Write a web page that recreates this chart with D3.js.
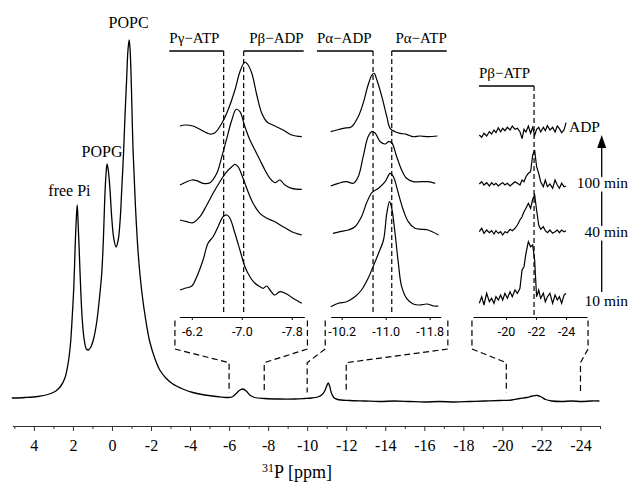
<!DOCTYPE html>
<html lang="en">
<head>
<meta charset="utf-8">
<title>31P NMR spectrum</title>
<script src="https://cdnjs.cloudflare.com/ajax/libs/d3/7.8.5/d3.min.js"></script>
<style>
  body { margin: 0; background: #fff; }
  svg { display: block; }
  .serif, .main-axis text { font-family: "Liberation Serif", "Times New Roman", serif; }
  .main-axis text { font-size: 16px; fill: #000; }
  .inset-axis text { font-family: Roboto, "Open Sans", sans-serif; font-size: 12.5px; fill: #000; }
</style>
</head>
<body>
<script>
// ---- main spectrum (ppm, intensity) ----
const mainPpm = [5.13,4.46,3.80,3.28,2.87,2.62,2.41,2.26,2.13,2.03,
  1.95,1.89,1.83,1.78,1.74,1.68,1.60,1.52,1.42,1.31,
  1.21,1.08,0.93,0.78,0.65,0.53,0.44,0.37,0.30,0.25,
  0.19,0.11,0.01,-0.09,-0.21,-0.32,-0.42,-0.50,-0.60,-0.67,
  -0.75,-0.82,-0.88,-0.93,-1.00,-1.08,-1.20,-1.35,-1.53,-1.73,
  -1.94,-2.19,-2.45,-2.76,-3.12,-3.63,-4.14,-4.75,-5.37,-5.88,
  -6.14,-6.34,-6.52,-6.70,-6.88,-7.06,-7.31,-7.82,-8.59,-9.36,
  -9.87,-10.23,-10.54,-10.74,-10.90,-11.00,-11.08,-11.15,-11.24,-11.36,
  -11.56,-12.18,-12.94,-13.71,-14.48,-15.25,-16.01,-16.78,-17.55,-18.32,
  -19.09,-19.85,-20.47,-20.88,-21.24,-21.54,-21.80,-22.00,-22.21,-22.52,
  -23.03,-23.54,-24.05,-24.56,-24.97];
const mainInt = [3,3.5,4.5,6.5,10,15,23,36,56,86,
  116,152,181,196,181,152,111,81,61,52,
  51,54,63,79,101,126,161,202,228,237,
  231,214,183,163,154,161,181,211,251,286,
  321,351,361,351,311,251,196,146,109,81,
  59,43,31,23,17,12,8.5,6,4.5,3.5,
  4,7,10.5,12,10,6,3.5,2.5,2,2,
  2.5,3,4,6,10,15,18,15,8,3.5,
  1.5,0.5,0,-0.5,0,-0.5,-1,-0.5,-1,-0.5,
  0,0.5,1,2.5,3.5,5,5.5,4,1.5,0,
  -0.5,0,-0.5,0,0];
const mainTicks = [4,2,0,-2,-4,-6,-8,-10,-12,-14,-16,-18,-20,-22,-24];
const minorTicks = [5,3,1,-1,-3,-5,-7,-9,-11,-13,-15,-17,-19,-21,-23,-25];
const peakNames = ["free Pi", "POPG", "POPC"];

// ---- inset 1: -6 .. -8 ppm (rows top to bottom: ADP, 100, 40, 10 min) ----
const p1t1Ppm = [-6.01,-6.09,-6.22,-6.33,-6.49,-6.57,-6.68,-6.78,-6.89,-6.97,-7.05,-7.09,-7.16,-7.24,-7.32,-7.40,-7.53,-7.66,-7.80,-7.96];
const p1t1Int = [191,192,191,187.7,183,184.3,193.7,207,227,245.3,255,253,243.7,222,203.7,195.3,191,187,182,180.3];
const p1t2Ppm = [-6.01,-6.12,-6.20,-6.28,-6.38,-6.49,-6.60,-6.68,-6.76,-6.84,-6.91,-6.97,-7.05,-7.13,-7.21,-7.29,-7.37,-7.45,-7.53,-7.61,-7.69,-7.80,-7.96];
const p1t2Int = [132,135.3,137,136.3,133.7,134.3,143.7,160.3,178.7,197,207.7,205.3,190.3,177,167,157,147,138.7,134.3,137,132,128.7,127.7];
const p1t3Ppm = [-6.01,-6.12,-6.22,-6.33,-6.44,-6.54,-6.65,-6.76,-6.84,-6.89,-6.94,-7.02,-7.10,-7.18,-7.29,-7.40,-7.53,-7.66,-7.80,-7.96];
const p1t3Int = [97,95.3,94.3,100.3,112,123.7,135.3,145.3,150.3,152.7,150.3,138.7,125.3,113.7,103.7,98.7,95.3,90.3,85.3,82];
const p1t4Ppm = [-6.01,-6.09,-6.20,-6.28,-6.38,-6.46,-6.54,-6.62,-6.70,-6.76,-6.81,-6.89,-6.97,-7.05,-7.13,-7.21,-7.29,-7.34,-7.40,-7.45,-7.53,-7.61,-7.72,-7.82,-7.96];
const p1t4Int = [27,28.7,31,40.3,57,73.7,80.3,90.3,100.3,102,98.7,83.7,67,50.3,40.3,33.7,30.3,28.7,31,27,22,25.3,23,18.7,13.7];

// ---- inset 2: -10 .. -12 ppm ----
const p2t1Ppm = [-10.00,-10.11,-10.23,-10.38,-10.50,-10.59,-10.68,-10.75,-10.79,-10.84,-10.93,-11.02,-11.08,-11.17,-11.26,-11.38,-11.50,-11.62,-11.77,-11.94];
const p2t1Int = [185.3,187,188.7,190.3,200.3,213.7,232,242,243.7,237,220.3,200.3,188.7,185.3,183.7,182.7,180.3,181,180.3,181];
const p2t2Ppm = [-10.00,-10.14,-10.29,-10.41,-10.50,-10.59,-10.68,-10.75,-10.81,-10.90,-10.99,-11.05,-11.11,-11.20,-11.29,-11.38,-11.50,-11.65,-11.77,-11.90];
const p2t2Int = [131,133.7,135.3,133.7,140.3,160.3,180.3,185.3,183.7,175.3,173,175.3,174.3,160.3,147,138.7,135.3,135.3,135.3,133.7];
const p2t3Ppm = [-10.04,-10.17,-10.32,-10.44,-10.56,-10.65,-10.75,-10.87,-10.99,-11.08,-11.14,-11.23,-11.32,-11.41,-11.53,-11.65,-11.77,-11.96];
const p2t3Int = [83.7,85.3,87,90.3,100.3,113.7,124.3,128.7,135.3,143.7,140.3,123.7,107,95.3,88.7,87.7,87,82];
const p2t4Ppm = [-10.00,-10.14,-10.29,-10.44,-10.56,-10.68,-10.77,-10.87,-10.96,-11.02,-11.07,-11.11,-11.17,-11.23,-11.29,-11.38,-11.50,-11.62,-11.75,-11.87,-11.96];
const p2t4Int = [10.3,13.7,15.3,20.3,27,38.7,50.3,63.7,77,103.7,115.3,108.7,83.7,53.7,30.3,18.7,13,12,13,11,11];

// ---- inset 3: Pbeta-ATP region, noisy, one shared ppm grid ----
const p3Ppm = [-18.22,-18.38,-18.53,-18.71,-18.89,-19.04,-19.20,-19.33,-19.49,-19.64,-19.78,-19.93,-20.09,-20.27,-20.42,-20.60,-20.76,-20.93,-21.07,-21.20,-21.33,-21.49,-21.64,-21.78,-21.91,-22.04,-22.18,-22.31,-22.49,-22.62,-22.76,-22.93,-23.11,-23.27,-23.42,-23.56,-23.71,-23.87,-24.00];
const p3t1Int = [182,179.7,183.7,181,185.3,183,187,184.3,189.3,185.3,188.7,186.3,189.7,187,191,187.7,188.7,185.3,178.3,187.7,185,191,183.7,189.7,181.7,187.7,189.7,185,189.7,186.3,191.3,187,189.7,185,191,188.3,184.3,187,194.3];
const p3t2Int = [133,135.3,132,134.3,131,134.3,132,133.7,131,133,134.3,132,133.7,131,133,135.3,133.7,132,137,135.3,140.3,143.7,145.3,162,167,150.3,143.7,135.3,130.3,137,130.3,133,128.7,137,132,128.7,133.7,130.3,131];
const p3t3Int = [85.3,88.7,83.7,87,84.3,86.3,83,86.3,83.7,85.3,82,85.3,84.3,87.7,86.3,88.7,92,97,100.3,105.3,108.7,113.7,108.7,117.7,122,107,92,87.7,90.3,86.3,84.3,87,83.7,85.3,87,84.3,87,85.3,86.3];
const p3t4Int = [13.7,20.3,12,23.7,15.3,18.7,13.7,20.3,17,22,17,23.7,18.7,25.3,20.3,27,23.7,28.7,47,50.3,63.7,75.3,70.3,72,57,20.3,27,18.7,23.7,15.3,20.3,23.7,13.7,22,17,20.3,13.7,22,23.7];

const rowNames = ["ADP", "100 min", "40 min", "10 min"];
const markerNames = ["P\u03b3\u2212ATP", "P\u03b2\u2212ADP", "P\u03b1\u2212ADP", "P\u03b1\u2212ATP", "P\u03b2\u2212ATP"];
const markerPpm = [-6.71, -7.03, -10.77, -11.11, -21.87];

// ---- layout ----
const W = 629, H = 483;
const svg = d3.select("body").append("svg").attr("width", W).attr("height", H);

const x = d3.scaleLinear().domain([5.1, -25.0]).range([12.4, 600]);
const y = d3.scaleLinear().domain([0, 361]).range([401, 40]);
const yIn = d3.scaleLinear().domain([0, 300]).range([317, 17]);

const smooth = d3.curveCatmullRom.alpha(0.5);

// main spectrum
svg.append("path")
  .datum(d3.zip(mainPpm, mainInt))
  .attr("d", d3.line().x(d => x(d[0])).y(d => y(d[1])).curve(smooth))
  .attr("fill", "none").attr("stroke", "#000").attr("stroke-width", 1.3);

// main axis
const axisY = 426;
const gx = svg.append("g").attr("class", "main-axis").attr("transform", `translate(0,${axisY})`)
  .call(d3.axisBottom(x).tickValues(mainTicks).tickSize(5).tickPadding(9)
    .tickSizeOuter(0).tickFormat(d => String(d)));
gx.select(".domain").attr("stroke", "#333");
gx.selectAll(".tick line").attr("stroke", "#333");

const gm = svg.append("g").attr("transform", `translate(0,${axisY})`)
  .call(d3.axisBottom(x).tickValues(minorTicks).tickSize(3).tickFormat(""));
gm.select(".domain").remove();
gm.selectAll(".tick line").attr("stroke", "#333");

const title = svg.append("text").attr("class", "serif")
  .attr("x", 297).attr("y", 478).attr("text-anchor", "middle").attr("font-size", 18);
title.append("tspan").attr("font-size", 12).attr("dy", -6).text("31");
title.append("tspan").attr("dy", 6).text("P [ppm]");

// peak labels
const peakLabelPpm = [2.18, 0.51, -0.85];
const peakLabelY = [196, 157, 28];
svg.selectAll(".peak").data(peakNames).enter().append("text")
  .attr("class", "serif")
  .attr("x", (d, i) => x(peakLabelPpm[i]))
  .attr("y", (d, i) => peakLabelY[i])
  .attr("text-anchor", "middle").attr("font-size", 16)
  .text(d => d);

// ---- insets ----
const panels = [
  { dom: [-6.0, -8.0], range: [179.3, 304.3], ticks: [-6.2, -7.0, -7.8], fmt: d => d.toFixed(1),
    top: [-5.93, -8.05], zoom: [-6.0, -7.8],
    traces: [[p1t1Ppm, p1t1Int], [p1t2Ppm, p1t2Int], [p1t3Ppm, p1t3Int], [p1t4Ppm, p1t4Int]], curve: smooth },
  { dom: [-10.0, -12.0], range: [330.7, 440.7], ticks: [-10.2, -11.0, -11.8], fmt: d => d.toFixed(1),
    top: [-9.90, -12.13], zoom: [-10.0, -12.0],
    traces: [[p2t1Ppm, p2t1Int], [p2t2Ppm, p2t2Int], [p2t3Ppm, p2t3Int], [p2t4Ppm, p2t4Int]], curve: smooth },
  { dom: [-17.8, -25.4], range: [473, 587], ticks: [-20, -22, -24], fmt: d => d.toFixed(0),
    top: [-17.73, -25.47], zoom: [-20.2, -24.0],
    traces: [[p3Ppm, p3t1Int], [p3Ppm, p3t2Int], [p3Ppm, p3t3Int], [p3Ppm, p3t4Int]], curve: d3.curveLinear }
];

const insetAxisY = 317;
panels.forEach(p => {
  p.x = d3.scaleLinear().domain(p.dom).range(p.range);
  const line = d3.line().x(d => p.x(d[0])).y(d => yIn(d[1])).curve(p.curve);
  p.traces.forEach(t => {
    svg.append("path").datum(d3.zip(t[0], t[1])).attr("d", line)
      .attr("fill", "none").attr("stroke", "#000").attr("stroke-width", 1.2);
  });
  const ga = svg.append("g").attr("class", "inset-axis").attr("transform", `translate(0,${insetAxisY})`)
    .call(d3.axisBottom(p.x).tickValues(p.ticks).tickSize(3).tickPadding(7)
      .tickSizeOuter(0).tickFormat(p.fmt));
  ga.select(".domain").attr("stroke-width", 1.2);

  // dashed zoom bracket down to the main spectrum
  const bracket = (topPpm, mainPpmVal) => {
    const path = d3.path();
    path.moveTo(p.x(topPpm), 320.5);
    path.lineTo(p.x(topPpm), 349);
    path.lineTo(x(mainPpmVal), 362.7);
    path.lineTo(x(mainPpmVal), 392.5);
    svg.append("path").attr("d", path.toString())
      .attr("fill", "none").attr("stroke", "#000").attr("stroke-width", 1.2)
      .attr("stroke-dasharray", "6,3.5");
  };
  bracket(p.top[0], p.zoom[0]);
  bracket(p.top[1], p.zoom[1]);
});

// ---- reference markers with labels ----
const markerPanel = [0, 0, 1, 1, 2];
const markerOuter = [-5.84, -7.99, -9.75, -12.11, -18.2];
const markerY = [51, 51, 51, 51, 86];
markerNames.forEach((name, i) => {
  const p = panels[markerPanel[i]];
  const mx = p.x(markerPpm[i]), ox = p.x(markerOuter[i]);
  svg.append("line").attr("x1", ox).attr("x2", mx).attr("y1", markerY[i]).attr("y2", markerY[i])
    .attr("stroke", "#000").attr("stroke-width", 1.3);
  svg.append("line").attr("x1", mx).attr("x2", mx).attr("y1", markerY[i]).attr("y2", 315)
    .attr("stroke", "#000").attr("stroke-width", 1.2).attr("stroke-dasharray", "5,3");
  svg.append("text").attr("class", "serif").attr("font-size", 15)
    .attr("x", ox).attr("y", markerY[i] - 8)
    .attr("text-anchor", ox < mx ? "start" : "end")
    .text(name);
});

// ---- time arrow and row labels ----
const arrowX = 601.7;
svg.append("line").attr("x1", arrowX).attr("x2", arrowX).attr("y1", 292).attr("y2", 146)
  .attr("stroke", "#000").attr("stroke-width", 1.3);
svg.append("path")
  .attr("d", `M${arrowX},135 L${arrowX - 4.5},148 L${arrowX + 4.5},148 Z`)
  .attr("fill", "#000");

const rowLabelY = [132, 188, 236.5, 306];
const rowLabelX = [600, 628, 628, 628];
svg.selectAll(".row").data(rowNames).enter().append("text")
  .attr("class", "serif").attr("font-size", 15.5)
  .attr("x", (d, i) => rowLabelX[i]).attr("y", (d, i) => rowLabelY[i])
  .attr("text-anchor", "end")
  .attr("stroke", "#fff").attr("stroke-width", 7).attr("paint-order", "stroke")
  .text(d => d);
</script>
</body>
</html>
